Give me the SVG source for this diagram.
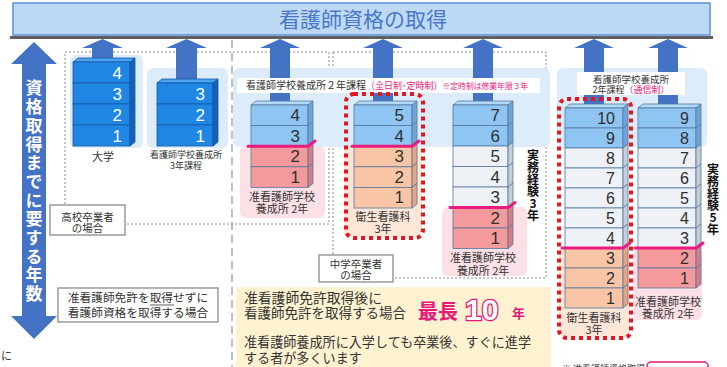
<svg xmlns="http://www.w3.org/2000/svg" width="727" height="367" viewBox="0 0 727 367">
<defs>
<style>
.jp{font-family:"Noto Sans CJK JP","Noto Sans",sans-serif}
.num{font-family:"Liberation Sans",Arial,sans-serif;font-size:17px;text-anchor:end}
.n16{font-size:16px}
.wn{fill:#fff}
.dn{fill:#2f2f2f}
.ln{stroke:#55789f;stroke-width:0.8}
.lk{stroke:#1757a3;stroke-width:0.8}
.b1{fill:#1f86e4}
.b1s{fill:#1461b8}
.b1t{fill:#4aa3ee}
.lb{fill:#8fc5f3}
.lbs{fill:#6ea5d8}
.lbt{fill:#b3d9f8}
.gy{fill:#eef1f5}
.gys{fill:#c4cdd8}
.pc{fill:#f8c6a6}
.pcs{fill:#e3a585}
.sm{fill:#f49a9c}
.sms{fill:#d97c86}
.arr{fill:#4472c4}
.mag{stroke:#ea1a7f;stroke-width:3;fill:none;stroke-linecap:round;stroke-linejoin:round}
.reddot{fill:none;stroke:#e8141e;stroke-width:4;stroke-dasharray:4 4}
.lbl{font-size:11px;fill:#333;text-anchor:middle}
.dotbox{fill:none;stroke:#8a8a8a;stroke-width:1;stroke-dasharray:2 2}
.callout{fill:#fff;stroke:#9a9a9a;stroke-width:1.5}
.pnl{fill:#dcecfa}
.pink{fill:#fbe1e6}
.peach{fill:#fce6d8}
.vert{writing-mode:vertical-rl;text-orientation:upright}
.vt{font-size:12px;font-weight:bold;fill:#111}
</style>
</defs>
<rect width="727" height="367" fill="#fff"/>

<!-- title -->
<g id="title">
<rect x="13" y="3" width="697" height="32" fill="#bdd9f3" stroke="#5b8ed8" stroke-width="1.5"/>
<text class="jp" x="363" y="27" font-size="21" fill="#4a78c6" text-anchor="middle">看護師資格の取得</text>
</g>

<!-- background frames -->
<g id="frames">
<line x1="232" y1="40" x2="232" y2="367" stroke="#aaa" stroke-width="1.5" stroke-dasharray="8 5"/>
<rect class="dotbox" x="65" y="52" width="264" height="172"/>
<rect class="dotbox" x="333" y="52" width="213" height="226"/>
<rect class="pnl" x="70" y="55" width="73" height="93" rx="6"/>
<rect class="pnl" x="147" y="68" width="81" height="80" rx="6"/>
<rect class="pnl" x="233" y="68" width="317" height="79" rx="6"/>
<rect class="pnl" x="557" y="68" width="150" height="79" rx="6"/>
<rect class="pink" x="240" y="146" width="85" height="72" rx="6"/>
<rect class="pink" x="442" y="207" width="85" height="69" rx="6"/>
<rect class="pink" x="633" y="248" width="69" height="72" rx="6"/>
<rect class="peach" x="344" y="146" width="78" height="91" rx="6"/>
<rect class="peach" x="559" y="248" width="71" height="89" rx="6"/>
</g>

<!-- connectors (arrows) -->
<g id="connectors">
<polygon class="arr" points="34,42 57,64 46,64 46,316 57,316 34,339 11,316 22,316 22,64 11,64"/>
<polygon class="arr" points="92,60 92,48 82,48 102.5,39 123,48 113,48 113,60"/>
<polygon class="arr" points="176,81 176,48 166,48 186.5,39 207,48 197,48 197,81"/>
<polygon class="arr" points="270,103 270,48 260,48 280,39 300,48 290,48 290,103"/>
<polygon class="arr" points="373,103 373,48 363,48 383,39 403,48 393,48 393,103"/>
<polygon class="arr" points="473,103 473,48 463,48 483,39 503,48 493,48 493,103"/>
<polygon class="arr" points="584,106 584,48 574,48 594,39 614,48 604,48 604,106"/>
<polygon class="arr" points="658,106 658,48 648,48 668,39 688,48 678,48 678,106"/>
</g>

<!-- gray rule under title -->
<line x1="10" y1="37.5" x2="713" y2="37.5" stroke="#5f5f5f" stroke-width="3"/>

<!-- vertical axis label -->
<g id="axis-label">
<text class="jp vert" x="34" y="79.5" font-size="17" font-weight="bold" fill="#fff" letter-spacing="1.7">資格取得までに要する年数</text>
</g>

<!-- white label bars -->
<g id="label-2nen">
<rect x="237" y="78" width="303" height="15" fill="#fff"/>
<text class="jp" x="246" y="89" font-size="10" fill="#333">看護師学校養成所２年課程<tspan fill="#e8197a" font-size="9">（全日制･定時制）</tspan><tspan fill="#e8197a" font-size="7.8">※定時制は修業年限３年</tspan></text>
</g>
<g id="label-tsushin">
<rect x="577" y="72" width="108" height="23" fill="#fff"/>
<text class="jp" x="631" y="82.5" font-size="9.5" fill="#333" text-anchor="middle">看護師学校養成所</text>
<text class="jp" x="631" y="93" font-size="9" fill="#333" text-anchor="middle">2年課程<tspan fill="#e8197a">（通信制）</tspan></text>
</g>

<!-- Stack 1: 大学 -->
<g id="stack-daigaku">
<polygon class="b1t lk" points="73,62 78,58 135,58 130,62"/>
<rect class="b1 lk" x="73" y="62" width="57" height="21"/><polygon class="b1s lk" points="130,62 135,58 135,79 130,83"/><text class="num wn" x="122" y="78.5">4</text>
<rect class="b1 lk" x="73" y="83" width="57" height="21"/><polygon class="b1s lk" points="130,83 135,79 135,100 130,104"/><text class="num wn" x="122" y="99.5">3</text>
<rect class="b1 lk" x="73" y="104" width="57" height="21"/><polygon class="b1s lk" points="130,104 135,100 135,121 130,125"/><text class="num wn" x="122" y="120.5">2</text>
<rect class="b1 lk" x="73" y="125" width="57" height="21"/><polygon class="b1s lk" points="130,125 135,121 135,142 130,146"/><text class="num wn" x="122" y="141.5">1</text>
<text class="jp lbl" x="103" y="161">大学</text>
</g>

<!-- Stack 2: 看護師学校養成所3年課程 -->
<g id="stack-3nen">
<polygon class="b1t lk" points="157,83 162,79 218,79 213,83"/>
<rect class="b1 lk" x="157" y="83" width="56" height="21"/><polygon class="b1s lk" points="213,83 218,79 218,100 213,104"/><text class="num wn" x="205" y="99.5">3</text>
<rect class="b1 lk" x="157" y="104" width="56" height="21"/><polygon class="b1s lk" points="213,104 218,100 218,121 213,125"/><text class="num wn" x="205" y="120.5">2</text>
<rect class="b1 lk" x="157" y="125" width="56" height="21"/><polygon class="b1s lk" points="213,125 218,121 218,142 213,146"/><text class="num wn" x="205" y="141.5">1</text>
<text class="jp" x="186" y="158" font-size="9" fill="#333" text-anchor="middle">看護師学校養成所</text>
<text class="jp" x="186" y="169" font-size="9" fill="#333" text-anchor="middle">3年課程</text>
</g>

<!-- Stack 3: 准看護師学校養成所2年 (高校卒) -->
<g id="stack-junkango-a">
<polygon class="lbt ln" points="251,105 256,101 313,101 308,105"/>
<rect class="lb ln" x="251" y="105" width="57" height="20.6"/><polygon class="lbs ln" points="308,105 313,101 313,121.6 308,125.6"/><text class="num dn" x="300" y="121">4</text>
<rect class="lb ln" x="251" y="125.6" width="57" height="20.6"/><polygon class="lbs ln" points="308,125.6 313,121.6 313,142.2 308,146.2"/><text class="num dn" x="300" y="141.6">3</text>
<rect class="sm ln" x="251" y="146.2" width="57" height="20.6"/><polygon class="sms ln" points="308,146.2 313,142.2 313,162.8 308,166.8"/><text class="num dn" x="300" y="162.2">2</text>
<rect class="sm ln" x="251" y="166.8" width="57" height="20.6"/><polygon class="sms ln" points="308,166.8 313,162.8 313,183.4 308,187.4"/><text class="num dn" x="300" y="182.8">1</text>
<path class="mag" d="M248,146.2 L308,146.2 L315,141"/>
<text class="jp lbl" x="282" y="201">准看護師学校</text>
<text class="jp lbl" x="282" y="213">養成所 2年</text>
</g>

<!-- Stack 4: 衛生看護科3年 (中学卒) -->
<g id="stack-eisei-a">
<polygon class="lbt ln" points="354,105 359,101 417,101 412,105"/>
<rect class="lb ln" x="354" y="105" width="58" height="20.6"/><polygon class="lbs ln" points="412,105 417,101 417,121.6 412,125.6"/><text class="num dn" x="404" y="121">5</text>
<rect class="lb ln" x="354" y="125.6" width="58" height="20.6"/><polygon class="lbs ln" points="412,125.6 417,121.6 417,142.2 412,146.2"/><text class="num dn" x="404" y="141.6">4</text>
<rect class="pc ln" x="354" y="146.2" width="58" height="20.6"/><polygon class="pcs ln" points="412,146.2 417,142.2 417,162.8 412,166.8"/><text class="num dn" x="404" y="162.2">3</text>
<rect class="pc ln" x="354" y="166.8" width="58" height="20.6"/><polygon class="pcs ln" points="412,166.8 417,162.8 417,183.4 412,187.4"/><text class="num dn" x="404" y="182.8">2</text>
<rect class="pc ln" x="354" y="187.4" width="58" height="20.6"/><polygon class="pcs ln" points="412,187.4 417,183.4 417,204 412,208"/><text class="num dn" x="404" y="203.4">1</text>
<path class="mag" d="M352,146.2 L412,146.2 L419,141"/>
<text class="jp lbl" x="383" y="221">衛生看護科</text>
<text class="jp lbl" x="383" y="233">3年</text>
<rect class="reddot" x="346" y="94" width="77" height="144" rx="8"/>
</g>

<!-- Stack 5: 准看護師学校養成所2年 + 実務経験3年 -->
<g id="stack-junkango-b">
<polygon class="lbt ln" points="453,105 458,101 513,101 508,105"/>
<rect class="lb ln" x="453" y="105" width="55" height="20.5"/><polygon class="lbs ln" points="508,105 513,101 513,121.5 508,125.5"/><text class="num dn" x="500" y="121">7</text>
<rect class="lb ln" x="453" y="125.5" width="55" height="20.5"/><polygon class="lbs ln" points="508,125.5 513,121.5 513,142 508,146"/><text class="num dn" x="500" y="141.5">6</text>
<rect class="gy ln" x="453" y="146" width="55" height="20.5"/><polygon class="gys ln" points="508,146 513,142 513,162.5 508,166.5"/><text class="num dn" x="500" y="162">5</text>
<rect class="gy ln" x="453" y="166.5" width="55" height="20.5"/><polygon class="gys ln" points="508,166.5 513,162.5 513,183 508,187"/><text class="num dn" x="500" y="182.5">4</text>
<rect class="gy ln" x="453" y="187" width="55" height="20.5"/><polygon class="gys ln" points="508,187 513,183 513,203.5 508,207.5"/><text class="num dn" x="500" y="203">3</text>
<rect class="sm ln" x="453" y="207.5" width="55" height="20.5"/><polygon class="sms ln" points="508,207.5 513,203.5 513,224 508,228"/><text class="num dn" x="500" y="223.5">2</text>
<rect class="sm ln" x="453" y="228" width="55" height="20.5"/><polygon class="sms ln" points="508,228 513,224 513,244.5 508,248.5"/><text class="num dn" x="500" y="244">1</text>
<path class="mag" d="M450,207.5 L508,207.5 L515,202.5"/>
<text class="jp lbl" x="483" y="262">准看護師学校</text>
<text class="jp lbl" x="483" y="275">養成所 2年</text>
<text class="jp vert vt" x="533" y="149">実務経験3年</text>
</g>

<!-- Stack 6: 衛生看護科3年 + 通信制 -->
<g id="stack-eisei-b">
<polygon class="lbt ln" points="565,108 570,104 628,104 623,108"/>
<rect class="lb ln" x="565" y="108" width="58" height="20"/><polygon class="lbs ln" points="623,108 628,104 628,124 623,128"/><text class="num n16 dn" x="615" y="123.5">10</text>
<rect class="lb ln" x="565" y="128" width="58" height="20"/><polygon class="lbs ln" points="623,128 628,124 628,144 623,148"/><text class="num n16 dn" x="615" y="143.5">9</text>
<rect class="gy ln" x="565" y="148" width="58" height="20"/><polygon class="gys ln" points="623,148 628,144 628,164 623,168"/><text class="num n16 dn" x="615" y="163.5">8</text>
<rect class="gy ln" x="565" y="168" width="58" height="20"/><polygon class="gys ln" points="623,168 628,164 628,184 623,188"/><text class="num n16 dn" x="615" y="183.5">7</text>
<rect class="gy ln" x="565" y="188" width="58" height="20"/><polygon class="gys ln" points="623,188 628,184 628,204 623,208"/><text class="num n16 dn" x="615" y="203.5">6</text>
<rect class="gy ln" x="565" y="208" width="58" height="20"/><polygon class="gys ln" points="623,208 628,204 628,224 623,228"/><text class="num n16 dn" x="615" y="223.5">5</text>
<rect class="gy ln" x="565" y="228" width="58" height="20"/><polygon class="gys ln" points="623,228 628,224 628,244 623,248"/><text class="num n16 dn" x="615" y="243.5">4</text>
<rect class="pc ln" x="565" y="248" width="58" height="20"/><polygon class="pcs ln" points="623,248 628,244 628,264 623,268"/><text class="num n16 dn" x="615" y="263.5">3</text>
<rect class="pc ln" x="565" y="268" width="58" height="20"/><polygon class="pcs ln" points="623,268 628,264 628,284 623,288"/><text class="num n16 dn" x="615" y="283.5">2</text>
<rect class="pc ln" x="565" y="288" width="58" height="20"/><polygon class="pcs ln" points="623,288 628,284 628,304 623,308"/><text class="num n16 dn" x="615" y="303.5">1</text>
<path class="mag" d="M562,248 L623,248 L630,243"/>
<text class="jp lbl" x="594" y="322">衛生看護科</text>
<text class="jp lbl" x="594" y="334">3年</text>
<rect class="reddot" x="559" y="99" width="72" height="239" rx="8"/>
</g>

<!-- Stack 7: 准看護師学校養成所2年 + 実務経験5年 -->
<g id="stack-junkango-c">
<polygon class="lbt ln" points="638,108 643,104 701,104 696,108"/>
<rect class="lb ln" x="638" y="108" width="58" height="20"/><polygon class="lbs ln" points="696,108 701,104 701,124 696,128"/><text class="num n16 dn" x="689" y="123.5">9</text>
<rect class="lb ln" x="638" y="128" width="58" height="20"/><polygon class="lbs ln" points="696,128 701,124 701,144 696,148"/><text class="num n16 dn" x="689" y="143.5">8</text>
<rect class="gy ln" x="638" y="148" width="58" height="20"/><polygon class="gys ln" points="696,148 701,144 701,164 696,168"/><text class="num n16 dn" x="689" y="163.5">7</text>
<rect class="gy ln" x="638" y="168" width="58" height="20"/><polygon class="gys ln" points="696,168 701,164 701,184 696,188"/><text class="num n16 dn" x="689" y="183.5">6</text>
<rect class="gy ln" x="638" y="188" width="58" height="20"/><polygon class="gys ln" points="696,188 701,184 701,204 696,208"/><text class="num n16 dn" x="689" y="203.5">5</text>
<rect class="gy ln" x="638" y="208" width="58" height="20"/><polygon class="gys ln" points="696,208 701,204 701,224 696,228"/><text class="num n16 dn" x="689" y="223.5">4</text>
<rect class="gy ln" x="638" y="228" width="58" height="20"/><polygon class="gys ln" points="696,228 701,224 701,244 696,248"/><text class="num n16 dn" x="689" y="243.5">3</text>
<rect class="sm ln" x="638" y="248" width="58" height="20"/><polygon class="sms ln" points="696,248 701,244 701,264 696,268"/><text class="num n16 dn" x="689" y="263.5">2</text>
<rect class="sm ln" x="638" y="268" width="58" height="20"/><polygon class="sms ln" points="696,268 701,264 701,284 696,288"/><text class="num n16 dn" x="689" y="283.5">1</text>
<path class="mag" d="M635,248 L696,248 L703,243"/>
<text class="jp lbl" x="668" y="306">准看護師学校</text>
<text class="jp lbl" x="668" y="318">養成所 2年</text>
<text class="jp vert vt" x="713" y="163">実務経験5年</text>
</g>

<!-- callouts -->
<g id="callout-koukou">
<rect class="callout" x="50" y="205" width="75" height="30"/>
<text class="jp" x="87.5" y="221" font-size="10.5" fill="#333" text-anchor="middle">高校卒業者</text>
<text class="jp" x="87.5" y="232" font-size="10.5" fill="#333" text-anchor="middle">の場合</text>
</g>
<g id="callout-chugaku">
<rect class="callout" x="319" y="255" width="74" height="27"/>
<text class="jp" x="356" y="268" font-size="10.5" fill="#333" text-anchor="middle">中学卒業者</text>
<text class="jp" x="356" y="279" font-size="10.5" fill="#333" text-anchor="middle">の場合</text>
</g>
<g id="callout-direct">
<rect class="callout" x="58" y="288" width="160" height="34"/>
<text class="jp" x="138" y="302" font-size="11.7" fill="#333" text-anchor="middle">准看護師免許を取得せずに</text>
<line x1="150" y1="305" x2="174" y2="305" stroke="#333" stroke-width="0.8"/>
<text class="jp" x="138" y="317" font-size="11.7" fill="#333" text-anchor="middle">看護師資格を取得する場合</text>
</g>

<!-- note panel -->
<g id="note-max10">
<rect x="236" y="287" width="315" height="85" fill="#fef2d0"/>
<text class="jp" x="244" y="303" font-size="13.8" fill="#333">准看護師免許取得後に</text>
<text class="jp" x="244" y="318" font-size="13.5" fill="#333">看護師免許を取得する場合</text>
<text class="jp" x="418" y="319" font-size="20" font-weight="bold" fill="#e8197a">最長</text>
<text x="465" y="320" font-family="Liberation Sans,Arial,sans-serif" font-size="30" font-weight="bold" fill="#fff" stroke="#e8197a" stroke-width="2.6" paint-order="stroke">10</text>
<text class="jp" x="512" y="318" font-size="13" font-weight="bold" fill="#e8197a">年</text>
<text class="jp" x="244" y="347" font-size="13.1" fill="#333">准看護師養成所に入学しても卒業後、すぐに進学</text>
<text class="jp" x="244" y="363" font-size="13.1" fill="#333">する者が多くいます</text>
</g>

<!-- cut-off edge fragments -->
<g id="edge-fragments">
<text class="jp" x="1" y="360" font-size="11" fill="#333">に</text>
<text class="jp" x="562" y="372" font-size="9" fill="#333">※ 准看護師資格取得</text>
<rect x="647" y="362" width="61" height="20" rx="4" fill="#fff" stroke="#e8197a" stroke-width="1.5"/>
</g>
</svg>
